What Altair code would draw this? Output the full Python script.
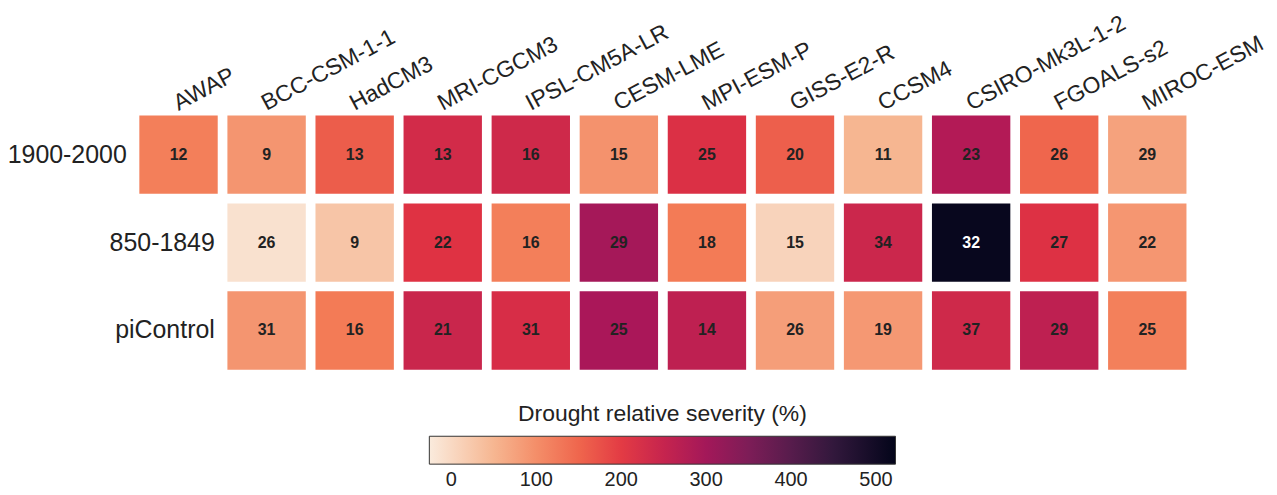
import altair as alt
import pandas as pd

models = ["AWAP", "BCC-CSM-1-1", "HadCM3", "MRI-CGCM3", "IPSL-CM5A-LR", "CESM-LME",
          "MPI-ESM-P", "GISS-E2-R", "CCSM4", "CSIRO-Mk3L-1-2", "FGOALS-s2", "MIROC-ESM"]
periods = ["1900-2000", "850-1849", "piControl"]

# Drought relative severity (%) per cell (colour)
sev_1900 = [120, 92, 160, 232, 238, 95, 218, 158, 50, 278, 150, 75]
sev_850 = [None, -12, 28, 212, 120, 298, 125, 8, 242, 515, 215, 90]
sev_pi = [None, 92, 125, 245, 225, 292, 262, 80, 88, 238, 262, 118]

# Numbers printed in the cells
cnt_1900 = [12, 9, 13, 13, 16, 15, 25, 20, 11, 23, 26, 29]
cnt_850 = [None, 26, 9, 22, 16, 29, 18, 15, 34, 32, 27, 22]
cnt_pi = [None, 31, 16, 21, 31, 25, 14, 26, 19, 37, 29, 25]

# rocket_r colour map stops
cmap_domain = [-26, 52.4, 130.9, 209.3, 287.7, 366.1, 444.6, 523]
cmap_colors = ["#faebdd", "#f6b48f", "#f37651", "#e13342", "#ad1759", "#701f57", "#35193e", "#03051a"]
legend_ticks = [0, 100, 200, 300, 400, 500]

rows = []
first_models = []
for p, sev, cnt in zip(periods, [sev_1900, sev_850, sev_pi], [cnt_1900, cnt_850, cnt_pi]):
    first = None
    for m, s, c in zip(models, sev, cnt):
        if s is None:
            continue
        if first is None:
            first = m
        rows.append({"model": m, "period": p, "severity": s, "count": c})
    first_models.append(first)
df = pd.DataFrame(rows)
label_df = pd.DataFrame({"period": periods, "model": first_models})

FONT = "Liberation Sans"
xs = alt.Scale(domain=models, paddingInner=0.11, paddingOuter=0.055)
ys = alt.Scale(domain=periods, paddingInner=0.11, paddingOuter=0.055)

x_axis = alt.Axis(orient="top", title=None, labelAngle=-28, labelAlign="left",
                  labelBaseline="alphabetic", labelFontSize=23, labelFont=FONT,
                  labelColor="#222222", ticks=False, tickSize=0, domain=False,
                  labelPadding=0, labelOffset=0, labelOverlap=False,
                  labelFlush=False, labelBound=False, labelLimit=0, grid=False)
X = alt.X("model:N", scale=xs, sort=models, axis=x_axis)
Y = alt.Y("period:N", scale=ys, sort=periods, axis=None)

base = alt.Chart(df)

cells = base.mark_rect().encode(
    x=X, y=Y,
    color=alt.Color("severity:Q",
                    scale=alt.Scale(domain=cmap_domain, range=cmap_colors, interpolate="rgb"),
                    legend=alt.Legend(title="Drought relative severity (%)", orient="none",
                                      legendX=296, legendY=294, direction="horizontal",
                                      gradientLength=468, gradientThickness=28,
                                      values=legend_ticks, titleFontSize=23,
                                      titleFont=FONT, labelFont=FONT, titleLimit=0,
                                      titleFontWeight="normal", labelFontSize=20,
                                      titleAnchor="middle", titleOrient="top",
                                      titlePadding=10, labelOffset=6, padding=0,
                                      gradientStrokeColor="#333333", gradientStrokeWidth=1,
                                      titleColor="#222222", labelColor="#222222")),
)

texts = base.mark_text(fontSize=16, fontWeight="bold", font=FONT).encode(
    x=X, y=Y,
    text=alt.Text("count:Q"),
    color=alt.condition("datum.severity > 450", alt.value("white"), alt.value("#222222")),
)

row_labels = alt.Chart(label_df).mark_text(
    align="right", baseline="middle", dx=-52, fontSize=25, font=FONT, color="#222222"
).encode(
    x=X, y=Y,
    text="period:N",
)

chart = alt.layer(cells, texts, row_labels).properties(
    width=1061, height=265,
    autosize=alt.AutoSizeParams(type="none"),
    padding={"left": 127, "top": 102, "right": 78, "bottom": 118},
).configure(background="white").configure_view(strokeWidth=0, stroke=None)

chart.save("out.html", embed_options={"renderer": "svg", "actions": False})
